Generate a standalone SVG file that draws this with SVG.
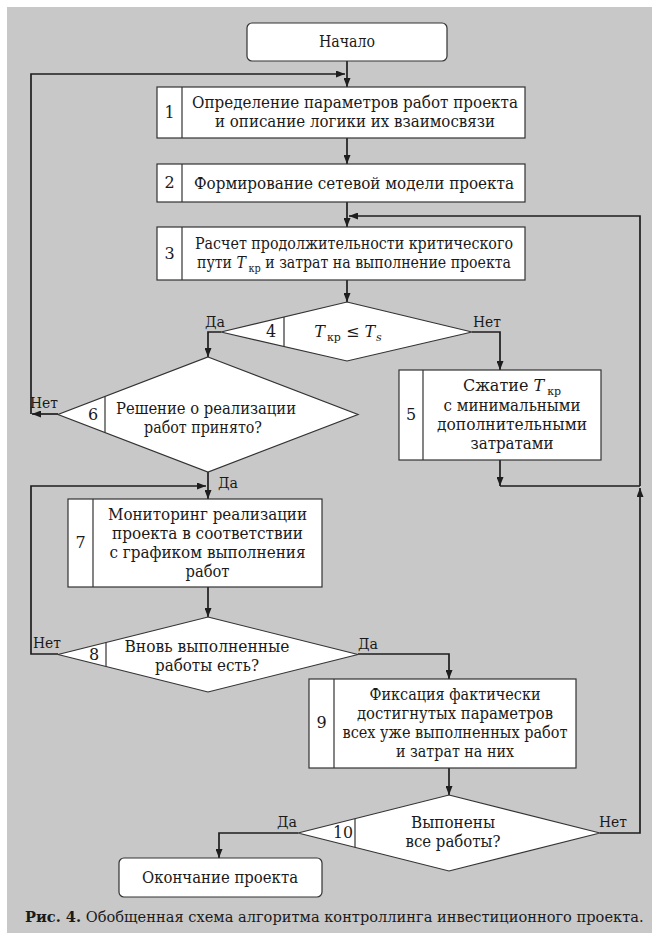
<svg xmlns="http://www.w3.org/2000/svg" width="659" height="940" viewBox="0 0 659 940">
<defs>
<marker id="ah" markerWidth="9" markerHeight="7" refX="9" refY="3.5" orient="auto" markerUnits="userSpaceOnUse"><path d="M0,0 L9,3.5 L0,7 z" fill="#1e1e1e"/></marker>
<style>
.bg{fill:#c8c8c8}
.box{fill:#fff;stroke:#333;stroke-width:1.2}
.div{stroke:#333;stroke-width:1.2;fill:none}
.t{font-family:"DejaVu Serif","Liberation Serif",serif;font-size:16px;fill:#1a1a1a;text-anchor:middle}
.n{font-family:"DejaVu Serif","Liberation Serif",serif;font-size:16px;fill:#1a1a1a;text-anchor:middle}
.lb{font-family:"DejaVu Serif","Liberation Serif",serif;font-size:15px;fill:#1a1a1a;text-anchor:middle}
.c{fill:none;stroke:#1e1e1e;stroke-width:1.7}
.ca{fill:none;stroke:#1e1e1e;stroke-width:1.7;marker-end:url(#ah)}
.cap{font-family:"DejaVu Serif","Liberation Serif",serif;font-size:14.6px;fill:#1a1a1a}
</style>
</defs>
<rect x="0" y="0" width="659" height="940" fill="#fff"/>
<rect class="bg" x="7" y="7" width="645" height="926"/>

<g id="connectors">
<path class="ca" d="M347,61 V87"/>
<path class="ca" d="M58,414 H32"/>
<path class="ca" d="M31,414 V74 H345"/>
<path class="ca" d="M347,138 V164"/>
<path class="ca" d="M347,202 V227"/>
<path class="ca" d="M640,486 V216 H349"/>
<path class="ca" d="M347,280 V302"/>
<path class="ca" d="M221,332 H208 V357"/>
<path class="ca" d="M472,332 H500 V370"/>
<path class="ca" d="M500,460 V486"/>
<path class="c" d="M500,486 H640"/>
<path class="ca" d="M208,472 V499"/>
<path class="ca" d="M58,654 H31 V486 H206"/>
<path class="ca" d="M208,587 V617"/>
<path class="ca" d="M358,654 H449 V679"/>
<path class="ca" d="M449,768 V795"/>
<path class="ca" d="M600,833 H640 V488"/>
<path class="ca" d="M298,833 H219 V858"/>
<text class="lb" x="215" y="327" textLength="20" lengthAdjust="spacingAndGlyphs">Да</text>
<text class="lb" x="487" y="327" textLength="28" lengthAdjust="spacingAndGlyphs">Нет</text>
<text class="lb" x="44" y="408" textLength="28" lengthAdjust="spacingAndGlyphs">Нет</text>
<text class="lb" x="228" y="488" textLength="20" lengthAdjust="spacingAndGlyphs">Да</text>
<text class="lb" x="47" y="648" textLength="28" lengthAdjust="spacingAndGlyphs">Нет</text>
<text class="lb" x="368" y="649" textLength="20" lengthAdjust="spacingAndGlyphs">Да</text>
<text class="lb" x="287" y="827" textLength="20" lengthAdjust="spacingAndGlyphs">Да</text>
<text class="lb" x="613" y="827" textLength="28" lengthAdjust="spacingAndGlyphs">Нет</text>
</g>

<g id="start">
<rect class="box" x="247" y="23" width="200" height="38" rx="5"/>
<text class="t" x="347" y="47" textLength="56" lengthAdjust="spacingAndGlyphs">Начало</text>
</g>

<g id="n1">
<rect class="box" x="157" y="87" width="368" height="51"/>
<line class="div" x1="182" y1="87" x2="182" y2="138"/>
<text class="n" x="169.5" y="118">1</text>
<text class="t" x="355" y="108" textLength="326" lengthAdjust="spacingAndGlyphs">Определение параметров работ проекта</text>
<text class="t" x="355" y="127" textLength="280" lengthAdjust="spacingAndGlyphs">и описание логики их взаимосвязи</text>
</g>

<g id="n2">
<rect class="box" x="157" y="164" width="368" height="38"/>
<line class="div" x1="182" y1="164" x2="182" y2="202"/>
<text class="n" x="169.5" y="188">2</text>
<text class="t" x="354" y="189" textLength="320" lengthAdjust="spacingAndGlyphs">Формирование сетевой модели проекта</text>
</g>

<g id="n3">
<rect class="box" x="157" y="227" width="368" height="53"/>
<line class="div" x1="182" y1="227" x2="182" y2="280"/>
<text class="n" x="169.5" y="259">3</text>
<text class="t" x="354" y="249" textLength="318" lengthAdjust="spacingAndGlyphs">Расчет продолжительности критического</text>
<text class="t" x="354" y="268" textLength="314" lengthAdjust="spacingAndGlyphs">пути <tspan font-style="italic">T</tspan><tspan font-size="11" dx="3" dy="4">кр</tspan><tspan dy="-4"> и затрат на выполнение проекта</tspan></text>
</g>

<g id="n4">
<polygon class="box" points="347,302 472,332 347,361 221,332"/>
<line class="div" x1="284" y1="317" x2="284" y2="346"/>
<text class="n" x="271" y="337">4</text>
<text class="t" x="348" y="337"><tspan font-style="italic">T</tspan><tspan font-size="11" dx="2" dy="4">кр</tspan><tspan dy="-4"> ≤ </tspan><tspan font-style="italic">T</tspan><tspan font-size="11" font-style="italic" dx="1" dy="4">s</tspan></text>
</g>

<g id="n5">
<rect class="box" x="399" y="370" width="202" height="90"/>
<line class="div" x1="423" y1="370" x2="423" y2="460"/>
<text class="n" x="411" y="420">5</text>
<text class="t" x="512" y="391">Сжатие <tspan font-style="italic">T</tspan><tspan font-size="11" dx="3" dy="4">кр</tspan></text>
<text class="t" x="512" y="411" textLength="137" lengthAdjust="spacingAndGlyphs">с минимальными</text>
<text class="t" x="512" y="430" textLength="150" lengthAdjust="spacingAndGlyphs">дополнительными</text>
<text class="t" x="512" y="449" textLength="83" lengthAdjust="spacingAndGlyphs">затратами</text>
</g>

<g id="n6">
<polygon class="box" points="208,357 358,414.5 208,472 58,414.5"/>
<line class="div" x1="105" y1="396.5" x2="105" y2="432.5"/>
<text class="n" x="93" y="420">6</text>
<text class="t" x="206" y="414" textLength="180" lengthAdjust="spacingAndGlyphs">Решение о реализации</text>
<text class="t" x="203" y="433" textLength="118" lengthAdjust="spacingAndGlyphs">работ принято?</text>
</g>

<g id="n7">
<rect class="box" x="68" y="499" width="254" height="88"/>
<line class="div" x1="93" y1="499" x2="93" y2="587"/>
<text class="n" x="80.5" y="548">7</text>
<text class="t" x="207.5" y="520" textLength="199" lengthAdjust="spacingAndGlyphs">Мониторинг реализации</text>
<text class="t" x="207.5" y="539" textLength="191" lengthAdjust="spacingAndGlyphs">проекта в соответствии</text>
<text class="t" x="207.5" y="558" textLength="196" lengthAdjust="spacingAndGlyphs">с графиком выполнения</text>
<text class="t" x="207.5" y="577" textLength="44" lengthAdjust="spacingAndGlyphs">работ</text>
</g>

<g id="n8">
<polygon class="box" points="208,617 358,654.5 208,692 58,654.5"/>
<line class="div" x1="106" y1="642.5" x2="106" y2="666.5"/>
<text class="n" x="94" y="660">8</text>
<text class="t" x="207" y="652" textLength="165" lengthAdjust="spacingAndGlyphs">Вновь выполненные</text>
<text class="t" x="207" y="671" textLength="104" lengthAdjust="spacingAndGlyphs">работы есть?</text>
</g>

<g id="n9">
<rect class="box" x="309" y="679" width="267" height="89"/>
<line class="div" x1="334" y1="679" x2="334" y2="768"/>
<text class="n" x="321.5" y="728">9</text>
<text class="t" x="455" y="700" textLength="171" lengthAdjust="spacingAndGlyphs">Фиксация фактически</text>
<text class="t" x="455" y="719" textLength="196" lengthAdjust="spacingAndGlyphs">достигнутых параметров</text>
<text class="t" x="455" y="738" textLength="225" lengthAdjust="spacingAndGlyphs">всех уже выполненных работ</text>
<text class="t" x="455" y="757" textLength="118" lengthAdjust="spacingAndGlyphs">и затрат на них</text>
</g>

<g id="n10">
<polygon class="box" points="449,795 600,833 449,871 298,833"/>
<line class="div" x1="355" y1="818.7" x2="355" y2="847.3"/>
<text class="n" x="343" y="838" textLength="20" lengthAdjust="spacingAndGlyphs">10</text>
<text class="t" x="453" y="828" textLength="84" lengthAdjust="spacingAndGlyphs">Выпонены</text>
<text class="t" x="453" y="847" textLength="95" lengthAdjust="spacingAndGlyphs">все работы?</text>
</g>

<g id="end">
<rect class="box" x="119" y="858" width="203" height="39" rx="5"/>
<text class="t" x="220" y="883" textLength="156" lengthAdjust="spacingAndGlyphs">Окончание проекта</text>
</g>

<text class="cap" x="25" y="922"><tspan font-weight="bold">Рис. 4.</tspan> Обобщенная схема алгоритма контроллинга инвестиционного проекта.</text>
</svg>
